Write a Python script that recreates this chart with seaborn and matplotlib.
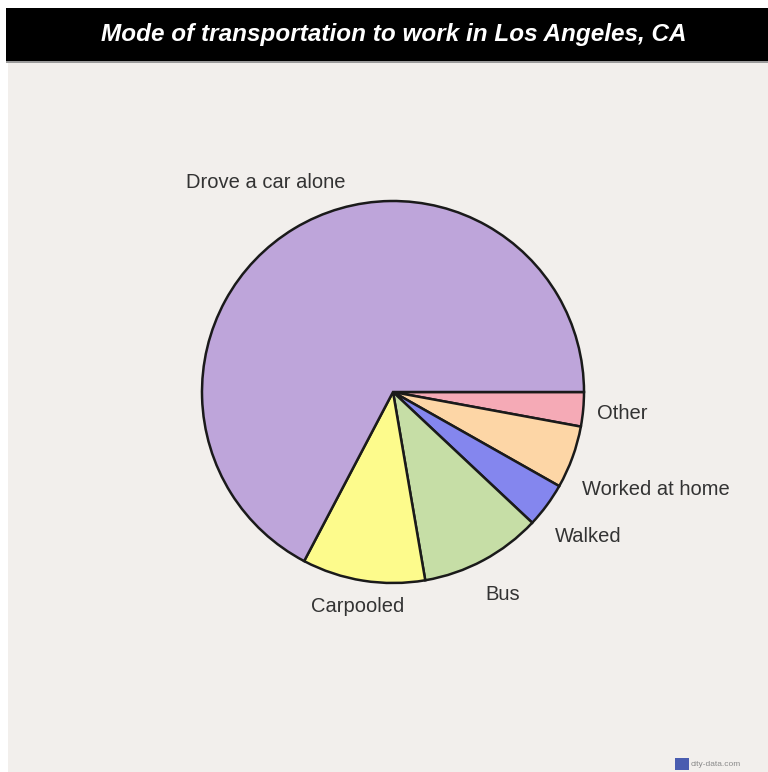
import matplotlib
matplotlib.use("Agg")
import matplotlib.pyplot as plt
import seaborn as sns
from matplotlib.patches import Rectangle

sns.set_theme(style="white")
plt.rcParams['font.family'] = ['Liberation Sans', 'DejaVu Sans']

title = "Mode of transportation to work in Los Angeles, CA"
categories = ["Other", "Worked at home", "Walked", "Bus", "Carpooled", "Drove a car alone"]
values = [2.9, 5.3, 3.8, 10.3, 10.4, 67.3]
slice_colors = ["#f5aab6", "#fdd6a6", "#8486ee", "#c6dea6", "#fdfb8c", "#bea5da"]

# label anchors (pie units) and alignment
label_pos = [(1.068, -0.141), (0.990, -0.539), (0.848, -0.785),
             (0.482, -1.089), (-0.186, -1.152), (-0.668, 1.068)]
label_ha = ["left", "left", "left", "left", "center", "center"]

W, H = 768, 772
fig = plt.figure(figsize=(W / 100, H / 100), dpi=100)
fig.patch.set_facecolor("white")

# background panel
fig.patches.append(Rectangle((8 / W, 0), 1 - 8 / W, 1 - 61 / H, transform=fig.transFigure,
                             facecolor="#f2efec", edgecolor="none", zorder=-10))
# title bar
fig.patches.append(Rectangle((6 / W, 1 - 61 / H), 1 - 6 / W, 53 / H, transform=fig.transFigure,
                             facecolor="black", edgecolor="none", zorder=-9))
fig.patches.append(Rectangle((6 / W, 1 - 63 / H), 1 - 6 / W, 2 / H, transform=fig.transFigure,
                             facecolor="#9a9a9a", edgecolor="none", zorder=-9))
fig.text((105 + 683) / 2 / W, 1 - 34 / H, title, color="white", fontsize=17.5,
         fontweight="bold", fontstyle="italic", ha="center", va="center", zorder=3)

cx, cy, R = 393, 392, 191
ax = fig.add_axes([(cx - R) / W, (H - cy - R) / H, 2 * R / W, 2 * R / H], zorder=1)
ax.set_facecolor("none")
wedges, _ = ax.pie(values, colors=slice_colors, startangle=0, counterclock=False,
                   wedgeprops=dict(edgecolor="#1a1a1a", linewidth=1.8))
ax.set_xlim(-1, 1)
ax.set_ylim(-1, 1)
ax.set_aspect("auto")
ax.axis("off")

for name, (lx, ly), ha in zip(categories, label_pos, label_ha):
    ax.text(lx, ly, name, ha=ha, va="baseline", fontsize=14.5, color="#333333", clip_on=False)

# watermark
fig.patches.append(Rectangle((675 / W, 2 / H), 14 / W, 12 / H, transform=fig.transFigure,
                             facecolor="#4a5db0", edgecolor="none", zorder=2))
fig.text(691 / W, 8 / H, "city-data.com", fontsize=6, color="#8a8a8a", ha="left", va="center")

fig.savefig("out.png", dpi=100, facecolor=fig.get_facecolor())
